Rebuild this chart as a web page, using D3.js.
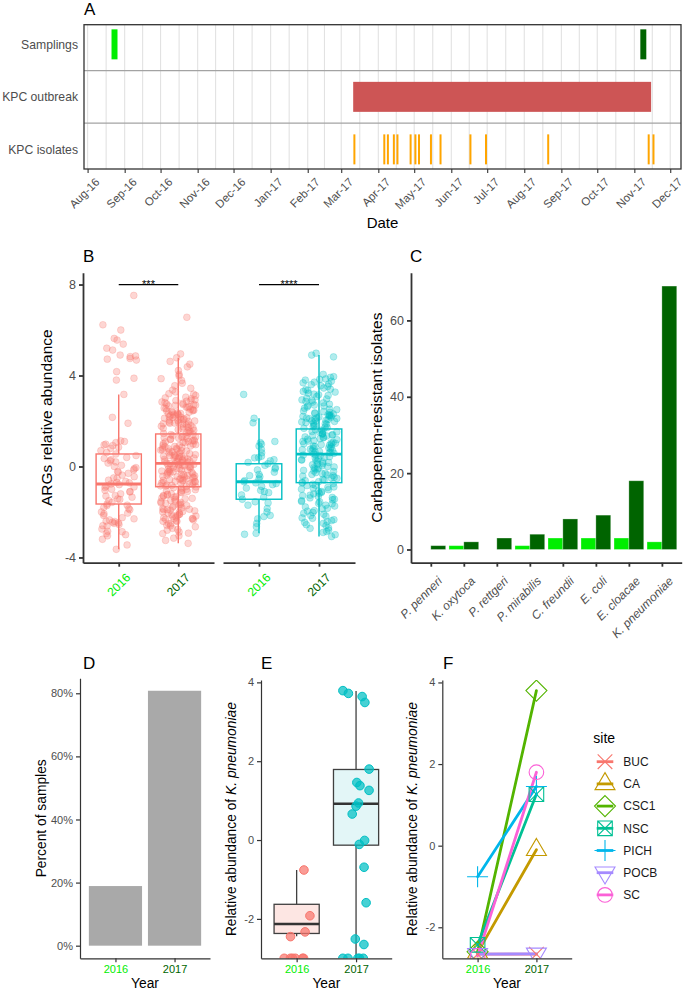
<!DOCTYPE html>
<html>
<head>
<meta charset="utf-8">
<script src="https://cdn.jsdelivr.net/npm/d3@7"></script>
<style>
  body { margin: 0; background: #fff; }
  svg { display: block; font-family: "Liberation Sans", Arial, Helvetica, sans-serif; }
</style>
</head>
<body>
<svg id="fig" width="686" height="991"></svg>
<script>
// Figure: KPC outbreak timeline (A), ARG abundance (B), carbapenem-resistant isolates (C),
// K. pneumoniae detection (D), abundance (E) and per-site change (F).

// ---------- data ----------
const YEARS = ["2016", "2017"];

// A: timeline
const TIMELINE_ROWS = ["Samplings", "KPC outbreak", "KPC isolates"];
const TIMELINE_DOMAIN = ["2016-07-29", "2017-12-10"];
const SAMPLINGS = [
  { start: "2016-08-21", end: "2016-08-26", year: "2016" },
  { start: "2017-11-06", end: "2017-11-11", year: "2017" },
];
const OUTBREAK = { start: "2017-03-11", end: "2017-11-15" };
const ISOLATE_DATES = [
  "2017-03-12", "2017-04-06", "2017-04-09", "2017-04-14", "2017-04-17", "2017-04-28",
  "2017-05-02", "2017-05-05", "2017-05-15", "2017-05-23", "2017-06-17", "2017-06-30",
  "2017-08-21", "2017-11-13", "2017-11-17",
];

// B: ARGs relative abundance, two facets (red / teal)
const ARG_RED_2016 = [7.52, 6.23, 6.0, 5.63, 5.56, 5.38, 5.2, 5.12, 4.9, 4.86, 4.83, 4.72, 4.68, 4.75, 4.17, 3.88, 3.8, 3.17,
  2.16, 1.9, 1.13, 1.1, 1.05, 0.98, 0.92, 0.85, 0.7, 0.62, 0.55, 0.48, 0.4, 0.3, 0.2, 0.15, 0.05, -0.05, -0.15, -0.22,
  -0.3, -0.38, -0.45, -0.52, -0.6, -0.66, -0.72, -0.77, -0.8, -0.86, -0.92, -1.0, -1.05, -1.12, -1.2, -1.28, -1.35,
  -1.42, -1.5, -1.58, -1.65, -1.72, -1.8, -1.9, -2.0, -2.08, -2.15, -2.25, -2.35, -2.42, -2.45, -2.5, -2.55, -2.62,
  -2.75, -2.85, -2.87, -2.95, -3.0, -3.05, -3.2, -3.45, -3.64,
  0.95, 0.8, 0.35, 0.0, -0.25, -0.5, -0.7, -0.9, -1.1, -1.3, -1.45, -1.7, -1.85, -2.05, -2.3, -2.4, -2.6, -2.48,
  0.25, -0.1];
const ARG_RED_2017 = [6.56, 4.95, 4.78, 4.62, 4.5, 4.38, 4.22, 4.05, 3.98, 3.86, 3.78, 3.66, 3.55, 3.44, 3.36, 3.28, 3.2,
  3.12, 3.05, 2.98, 2.9, 2.84, 2.78, 2.72, 2.66, 2.6, 2.55, 2.5, 2.44, 2.38, 2.33, 2.28, 2.22, 2.17, 2.12, 2.06, 2.0,
  1.95, 1.9, 1.85, 1.8, 1.74, 1.68, 1.62, 1.56, 1.5, 1.45, 2.9, 2.7, 2.45, 2.3, 2.15, 2.02, 1.88, 1.7,
  1.4, 1.36, 1.32, 1.28, 1.24, 1.2, 1.16, 1.12, 1.08, 1.04, 1.0, 0.96, 0.92, 0.88, 0.84, 0.8, 0.76, 0.72, 0.68,
  0.64, 0.6, 0.56, 0.52, 0.48, 0.45, 0.42, 0.39, 0.36, 0.33, 0.3, 0.27, 0.24, 0.21, 0.18, 0.15,
  0.12, 0.09, 0.06, 0.03, 0.0, -0.03, -0.06, -0.1, -0.13, -0.16, -0.2, -0.23, -0.26, -0.3, -0.33, -0.36, -0.4,
  -0.43, -0.46, -0.5, -0.53, -0.56, -0.6, -0.63, -0.66, -0.7, -0.73, -0.76, -0.8, -0.83, -0.86,
  -0.9, -0.95, -1.0, -1.05, -1.1, -1.15, -1.2, -1.25, -1.3, -1.35, -1.4, -1.45, -1.5, -1.55, -1.6, -1.65, -1.7,
  -1.75, -1.8, -1.85, -1.9, -1.95, -2.0, -2.05, -2.1, -2.15, -2.2, -2.25, -2.3, -2.35, -2.42, -2.5, -2.58, -2.65,
  -2.72, -2.8, -2.88, -2.95, -3.05, -3.15, -3.25, -3.38, -1.9, -2.1, -2.3,
  3.18, 3.02, 2.93, 2.87, 2.81, 2.75, 2.69, 2.63, 2.57, 2.52, 2.47, 2.41, 2.36, 2.31, 2.25, 2.19, 2.14, 2.09, 2.04,
  1.98, 1.93, 1.87, 1.82, 1.77, 1.71, 1.65, 1.59, 1.53, 1.48, 2.61, 2.39, 2.07, 1.91, 2.73, 2.27,
  1.41, 1.33, 1.26, 1.19, 1.13, 1.06, 0.99, 0.93, 0.87, 0.81, 0.74, 0.67, 0.61, 0.55, 0.49, 0.43, 0.37, 0.31, 0.25,
  0.19, 1.3, 1.1, 0.9, 0.7, 0.5, 0.35, 0.22, 1.22, 0.78, 0.44,
  0.11, 0.04, -0.02, -0.08, -0.15, -0.21, -0.28, -0.35, -0.41, -0.48, -0.55, -0.61, -0.68, -0.75, -0.82, -0.88,
  -0.12, -0.38, -0.58, -0.71, 0.07, -0.25, -0.45, -0.65, -0.85,
  -0.93, -1.02, -1.12, -1.22, -1.32, -1.42, -1.52, -1.62, -1.72, -1.82, -1.92, -2.02, -2.12, -2.22, -2.32, -2.41,
  -2.52, -2.61, -2.77, -2.93, -1.08, -1.38, -1.68, -1.98, -2.18, -2.38, -1.28, -1.58, -1.88, -2.28];
const ARG_TEAL_2016 = [3.17, 2.12, 1.92, 1.1, 1.05, 0.98, 0.75, 0.6, 0.45, 0.38, 0.3, 0.25, 0.18, 0.12, 0.05, -0.05,
  -0.15, -0.25, -0.35, -0.45, -0.55, -0.62, -0.67, -0.72, -0.8, -0.88, -0.95, -1.05, -1.15, -1.25, -1.35, -1.44,
  -1.55, -1.7, -1.85, -2.0, -2.15, -2.3, -2.5, -2.65, -2.94, -2.98,
  0.9, 0.4, -0.1, -0.4, -0.75, -1.1, -1.6, -2.2];
const ARG_TEAL_2017 = [4.98, 4.9, 4.82, 4.05, 3.95, 3.85, 3.8, 3.75, 3.68, 3.6, 3.52, 3.45, 3.38, 3.3, 3.22, 3.15,
  3.08, 3.0, 2.93, 2.86, 2.8, 2.74, 2.68, 2.62, 2.56, 2.5, 2.44, 2.38, 2.33, 2.28, 2.23, 2.18, 2.13, 2.08, 2.03,
  1.98, 1.93, 1.88, 1.83, 1.78, 1.73, 1.68, 2.2, 2.1, 2.0, 2.9, 2.7,
  1.62, 1.58, 1.54, 1.5, 1.46, 1.42, 1.38, 1.34, 1.3, 1.26, 1.22, 1.18, 1.14, 1.1, 1.06, 1.02, 0.98, 0.94, 0.9,
  0.86, 0.82, 0.78, 0.74, 0.7, 0.66, 0.62, 0.58,
  0.52, 0.48, 0.43, 0.38, 0.33, 0.28, 0.23, 0.18, 0.13, 0.08, 0.03, -0.02, -0.07, -0.12, -0.17, -0.22, -0.27,
  -0.32, -0.37, -0.42, -0.47, -0.52, -0.57, -0.62, -0.67,
  -0.72, -0.78, -0.84, -0.9, -0.96, -1.02, -1.08, -1.14, -1.2, -1.26, -1.32, -1.38, -1.44, -1.5, -1.56, -1.62,
  -1.7, -1.78, -1.86, -1.94, -2.02, -2.1, -2.18, -2.26, -2.34, -2.42, -2.5, -2.6, -2.7, -2.8, -2.9, -3.0, -3.08,
  3.92, 3.83, 3.71, 3.63, 3.55, 3.4, 3.27, 3.12, 2.97, 2.83, 2.66, 2.52, 2.41, 2.31, 2.26, 2.21, 2.16, 2.11, 2.06,
  2.01, 1.96, 1.91, 1.86, 1.76, 1.71, 2.24, 2.14, 2.36, 3.35, 3.18,
  1.6, 1.52, 1.44, 1.36, 1.28, 1.2, 1.12, 1.04, 0.96, 0.88, 0.8, 0.72, 0.64, 0.56, 1.4, 1.0, 0.76, 0.6,
  0.5, 0.4, 0.3, 0.2, 0.1, 0.0, -0.1, -0.2, -0.3, -0.4, -0.5, -0.6, -0.7, 0.25, -0.05, -0.35,
  -0.75, -0.82, -0.92, -1.0, -1.1, -1.18, -1.28, -1.36, -1.46, -1.54, -1.64, -1.74, -1.84, -1.96, -2.06, -2.16,
  -2.28, -2.38, -2.46, -2.56, -2.72, -2.86];
// box statistics: [lower whisker, q1, median, q3, upper whisker]
const ARG_BOX_RED = [[-3.64, -1.65, -0.77, 0.55, 3.16], [-3.38, -0.89, 0.14, 1.43, 4.78]];
const ARG_BOX_TEAL = [[-2.94, -1.44, -0.67, 0.12, 2.12], [-3.08, -0.71, 0.54, 1.65, 4.9]];
const ARG_SIGNIF = ["***", "****"];

// C: carbapenem-resistant isolates per species
const SPECIES = ["P. penneri", "K. oxytoca", "P. rettgeri", "P. mirabilis", "C. freundii", "E. coli", "E. cloacae", "K. pneumoniae"];
const ISOLATES_2016 = [0, 1, 0, 1, 3, 3, 3, 2];
const ISOLATES_2017 = [1, 2, 3, 4, 8, 9, 18, 69];

// D: percent of samples with K. pneumoniae
const PERCENT_SAMPLES = [18.9, 80.8];

// E: relative abundance of K. pneumoniae
const KP_2016 = [-0.76, -1.92, -2.33, -2.45, -3, -3, -3, -3, -3, -3];
const KP_2017 = [3.79, 3.72, 3.64, 3.49, 1.8, 1.46, 1.38, 1.26, 0.94, 0.86, 0.66, -0.01, -0.11, -0.69, -1.59,
  -2.51, -2.65, -3, -3, -3, -3, -3];
const KP_BOX = [[-2.44, -2.37, -2.13, -1.63, -0.76], [-3.0, -0.13, 0.92, 1.79, 3.78]];

// F: per-site change
const SITES = ["BUC", "CA", "CSC1", "NSC", "PICH", "POCB", "SC"];
const SITE_2016 = [-2.66, -2.62, -2.6, -2.43, -0.76, -2.66, -2.7];
const SITE_2017 = [-2.66, -0.1, 3.8, 1.26, 1.45, -2.65, 1.8];

// ---------- styles ----------
const FONT = '"Liberation Sans", Arial, Helvetica, sans-serif';
const YEAR_COLORS = { "2016": "#00EE00", "2017": "#006400" };
const RED = "#F8766D", TEAL = "#00BFC4";
const SITE_COLORS = ["#F8766D", "#C49A00", "#53B400", "#00C094", "#00B6EB", "#A58AFF", "#FB61D7"];
const SITE_SHAPES = ["x", "triangle", "diamond", "boxx", "plus", "triangleDown", "circle"];
const TICK_GREY = "#4d4d4d";

const svg = d3.select("#fig");
svg.append("rect").attr("width", 686).attr("height", 991).attr("fill", "#fff");
const defs = svg.append("defs");

const parseDay = d3.timeParse("%Y-%m-%d");

// deterministic jitter in [-0.5, 0.5]
function jitter(i, seed) {
  const s = Math.sin((i + 1) * 12.9898 + seed * 78.233) * 43758.5453;
  return s - Math.floor(s) - 0.5;
}

function styleAxis(g, size, width) {
  g.attr("font-family", FONT).attr("font-size", size);
  g.selectAll("text").attr("fill", TICK_GREY);
  g.selectAll("line").attr("stroke", "#333").attr("stroke-width", width);
  g.select(".domain").attr("stroke", "#333").attr("stroke-width", width);
  return g;
}

function panelLabel(txt, x, y) {
  svg.append("text").attr("x", x).attr("y", y).attr("font-size", 17).attr("fill", "#000").text(txt);
}

function yTitle(parts, cx, cy, size) {
  const t = svg.append("text")
    .attr("transform", `translate(${cx},${cy}) rotate(-90)`)
    .attr("text-anchor", "middle").attr("dy", "0.35em")
    .attr("font-size", size).attr("fill", "#000");
  parts.forEach(([s, italic]) => t.append("tspan").attr("font-style", italic ? "italic" : null).text(s));
}

function xTitle(txt, cx, y, size) {
  svg.append("text").attr("x", cx).attr("y", y).attr("text-anchor", "middle")
    .attr("font-size", size).attr("fill", "#000").text(txt);
}

function clipRect(id, x0, y0, x1, y1) {
  defs.append("clipPath").attr("id", id).append("rect")
    .attr("x", x0).attr("y", y0).attr("width", x1 - x0).attr("height", y1 - y0);
  return `url(#${id})`;
}

// ================= Panel A =================
(function panelA() {
  const box = { x0: 84, x1: 681, y0: 24.7, y1: 169 };
  const x = d3.scaleTime().domain(TIMELINE_DOMAIN.map(parseDay)).range([box.x0, box.x1]);
  const y = d3.scalePoint().domain(TIMELINE_ROWS).range([box.y0, box.y1]).padding(0.374);
  const g = svg.append("g");
  const months = d3.timeMonth.range(parseDay("2016-08-01"), parseDay("2017-12-02"));
  const mids = d3.pairs(months).map(([a, b]) => (x(a) + x(b)) / 2);

  g.selectAll(null).data(months.map(x).concat(mids)).join("line")
    .attr("x1", (d) => d).attr("x2", (d) => d).attr("y1", box.y0).attr("y2", box.y1)
    .attr("stroke", "#e2e2e2").attr("stroke-width", 1.1);
  g.selectAll(null).data(d3.pairs(TIMELINE_ROWS)).join("line")
    .attr("x1", box.x0).attr("x2", box.x1)
    .attr("y1", ([a, b]) => (y(a) + y(b)) / 2).attr("y2", ([a, b]) => (y(a) + y(b)) / 2)
    .attr("stroke", "#a3a3a3").attr("stroke-width", 1.3);

  const h = 30;
  g.selectAll(null).data(SAMPLINGS).join("rect")
    .attr("x", (d) => x(parseDay(d.start))).attr("width", (d) => x(parseDay(d.end)) - x(parseDay(d.start)))
    .attr("y", y("Samplings") - h / 2).attr("height", h)
    .attr("fill", (d) => YEAR_COLORS[d.year]);
  g.append("rect")
    .attr("x", x(parseDay(OUTBREAK.start))).attr("width", x(parseDay(OUTBREAK.end)) - x(parseDay(OUTBREAK.start)))
    .attr("y", y("KPC outbreak") - h / 2).attr("height", h).attr("fill", "#CD5555");
  g.selectAll(null).data(ISOLATE_DATES.map(parseDay)).join("line")
    .attr("x1", (d) => x(d)).attr("x2", (d) => x(d))
    .attr("y1", y("KPC isolates") - h / 2).attr("y2", y("KPC isolates") + h / 2)
    .attr("stroke", "#FFA500").attr("stroke-width", 2);

  g.append("rect").attr("x", box.x0).attr("y", box.y0)
    .attr("width", box.x1 - box.x0).attr("height", box.y1 - box.y0)
    .attr("fill", "none").attr("stroke", "#333").attr("stroke-width", 1.3);

  const ax = g.append("g").attr("transform", `translate(0,${box.y1})`)
    .call(d3.axisBottom(x).tickValues(months).tickSize(4).tickFormat(""));
  ax.select(".domain").remove();
  styleAxis(ax, 11.5, 1.1);

  const fmt = d3.timeFormat("%b-%y");
  g.selectAll(null).data(months).join("text")
    .attr("transform", (d) => `translate(${x(d) + 7},${box.y1 + 8}) rotate(-45)`)
    .attr("text-anchor", "end").attr("dy", "0.71em")
    .attr("font-size", 11.5).attr("fill", TICK_GREY).text(fmt);

  g.selectAll(null).data(TIMELINE_ROWS).join("text")
    .attr("x", box.x0 - 6).attr("y", (d) => y(d)).attr("dy", "0.35em")
    .attr("text-anchor", "end").attr("font-size", 12.2).attr("fill", TICK_GREY).text((d) => d);

  xTitle("Date", (box.x0 + box.x1) / 2, 228, 15);
  panelLabel("A", 84, 15);
})();

// ================= Panel B =================
(function panelB() {
  const top = 272.7, bottom = 562.7;
  const y = d3.scaleLinear().domain([-4.23, 8.52]).range([bottom, top]);
  const facets = [
    { range: [83, 214], color: RED, groups: [ARG_RED_2016, ARG_RED_2017], box: ARG_BOX_RED, sig: ARG_SIGNIF[0] },
    { range: [223, 355], color: TEAL, groups: [ARG_TEAL_2016, ARG_TEAL_2017], box: ARG_BOX_TEAL, sig: ARG_SIGNIF[1] },
  ];

  facets.forEach((f, fi) => {
    const x = d3.scalePoint().domain(YEARS).range(f.range).padding(0.6);
    const step = x.step();
    const g = svg.append("g");

    YEARS.forEach((yr, yi) => {
      g.selectAll(null).data(f.groups[yi]).join("circle")
        .attr("cx", (d, i) => x(yr) + jitter(i, fi * 2 + yi) * 0.6 * step)
        .attr("cy", (d) => y(d)).attr("r", 3.4)
        .attr("fill", f.color).attr("fill-opacity", 0.3)
        .attr("stroke", f.color).attr("stroke-opacity", 0.3).attr("stroke-width", 0.8);
    });

    YEARS.forEach((yr, yi) => {
      const [lo, q1, med, q3, hi] = f.box[yi];
      const bw = 0.76 * step, cx = x(yr);
      g.append("line").attr("x1", cx).attr("x2", cx).attr("y1", y(q3)).attr("y2", y(hi))
        .attr("stroke", f.color).attr("stroke-width", 1.4);
      g.append("line").attr("x1", cx).attr("x2", cx).attr("y1", y(q1)).attr("y2", y(lo))
        .attr("stroke", f.color).attr("stroke-width", 1.4);
      g.append("rect").attr("x", cx - bw / 2).attr("width", bw)
        .attr("y", y(q3)).attr("height", y(q1) - y(q3))
        .attr("fill", "none").attr("stroke", f.color).attr("stroke-width", 1.4);
      g.append("line").attr("x1", cx - bw / 2).attr("x2", cx + bw / 2).attr("y1", y(med)).attr("y2", y(med))
        .attr("stroke", f.color).attr("stroke-width", 2.8);
    });

    // significance bracket
    g.append("line").attr("x1", x("2016")).attr("x2", x("2017")).attr("y1", y(8)).attr("y2", y(8))
      .attr("stroke", "#000").attr("stroke-width", 1.2);
    g.append("text").attr("x", (x("2016") + x("2017")) / 2).attr("y", y(8) + 3)
      .attr("text-anchor", "middle").attr("font-size", 11).attr("fill", "#000").text(f.sig);

    const ax = g.append("g").attr("transform", `translate(0,${bottom})`)
      .call(d3.axisBottom(x).tickSize(4).tickSizeOuter(0).tickFormat(""));
    styleAxis(ax, 12, 1.8);
    g.selectAll(null).data(YEARS).join("text")
      .attr("transform", (d) => `translate(${x(d)},${bottom + 22}) rotate(-45)`)
      .attr("text-anchor", "middle").attr("dy", "0.35em")
      .attr("font-size", 12).attr("fill", (d) => YEAR_COLORS[d]).text((d) => d);
  });

  const ay = svg.append("g").attr("transform", "translate(83,0)")
    .call(d3.axisLeft(y).tickValues([-4, 0, 4, 8]).tickSize(4).tickSizeOuter(0).tickFormat((d) => String(d)));
  styleAxis(ay, 12.5, 1.8);

  yTitle([["ARGs relative abundance", false]], 47, (top + bottom) / 2, 15.5);
  panelLabel("B", 83, 262);
})();

// ================= Panel C =================
(function panelC() {
  const left = 411, right = 681.7, top = 272.7, bottom = 562.7;
  const y = d3.scaleLinear().domain([-3.46, 72.5]).range([bottom, top]);
  const x = d3.scalePoint().domain(SPECIES).range([left, right]).padding(0.6);
  const bw = 0.45 * x.step();
  const g = svg.append("g");
  const bars = SPECIES.flatMap((s, i) => [
    { s, year: "2016", v: ISOLATES_2016[i], off: -bw },
    { s, year: "2017", v: ISOLATES_2017[i], off: 0 },
  ]).filter((d) => d.v > 0);

  g.selectAll(null).data(bars).join("rect")
    .attr("x", (d) => x(d.s) + d.off).attr("width", bw)
    .attr("y", (d) => y(d.v)).attr("height", (d) => y(0) - y(d.v))
    .attr("fill", (d) => YEAR_COLORS[d.year])
    .attr("stroke", "#ffffff").attr("stroke-opacity", 0.35).attr("stroke-width", 0.8);

  const ay = g.append("g").attr("transform", `translate(${left},0)`)
    .call(d3.axisLeft(y).tickValues([0, 20, 40, 60]).tickSize(4).tickSizeOuter(0));
  styleAxis(ay, 12.5, 1.8);
  const ax = g.append("g").attr("transform", `translate(0,${bottom})`)
    .call(d3.axisBottom(x).tickSize(4).tickSizeOuter(0).tickFormat(""));
  styleAxis(ax, 12.5, 1.8);

  g.selectAll(null).data(SPECIES).join("text")
    .attr("transform", (d) => `translate(${x(d) + 6},${bottom + 13}) rotate(-45)`)
    .attr("text-anchor", "end").attr("dy", "0.71em")
    .attr("font-size", 12).attr("font-style", "italic").attr("fill", TICK_GREY).text((d) => d);

  yTitle([["Carbapenem-resistant isolates", false]], 377, (top + bottom) / 2, 15.5);
  panelLabel("C", 410, 262);
})();

// ================= Panel D =================
(function panelD() {
  const left = 80, right = 210, top = 678.3, bottom = 958.3;
  const y = d3.scaleLinear().domain([-4, 84.75]).range([bottom, top]);
  const x = d3.scalePoint().domain(YEARS).range([left, right]).padding(0.6);
  const bw = 0.9 * x.step();
  const g = svg.append("g");

  g.selectAll(null).data(YEARS).join("rect")
    .attr("x", (d) => x(d) - bw / 2).attr("width", bw)
    .attr("y", (d, i) => y(PERCENT_SAMPLES[i])).attr("height", (d, i) => y(0) - y(PERCENT_SAMPLES[i]))
    .attr("fill", "#A9A9A9");

  const ay = g.append("g").attr("transform", `translate(${left},0)`)
    .call(d3.axisLeft(y).tickValues([0, 20, 40, 60, 80]).tickSize(4).tickSizeOuter(0).tickFormat((d) => d + "%"));
  styleAxis(ay, 11, 1.2);
  const ax = g.append("g").attr("transform", `translate(0,${bottom})`)
    .call(d3.axisBottom(x).tickSize(4).tickSizeOuter(0));
  styleAxis(ax, 11, 1.2);
  ax.selectAll("text").attr("fill", (d) => YEAR_COLORS[d]);

  yTitle([["Percent of samples", false]], 41, (top + bottom) / 2, 13.8);
  xTitle("Year", (left + right) / 2, 988, 13.8);
  panelLabel("D", 83, 669);
})();

// ================= Panel E =================
(function panelE() {
  const left = 261, right = 391.7, top = 680, bottom = 958.3;
  const y = d3.scaleLinear().domain([-3.0, 4.06]).range([bottom, top]);
  const x = d3.scalePoint().domain(YEARS).range([left, right]).padding(0.6);
  const step = x.step(), bw = 0.76 * step;
  const g = svg.append("g").attr("clip-path", clipRect("clipE", left, top, right, bottom));
  const cols = [RED, TEAL];
  const fills = ["#FDE6E3", "#E3F6F7"];

  YEARS.forEach((yr, yi) => {
    const [lo, q1, med, q3, hi] = KP_BOX[yi];
    const cx = x(yr);
    g.append("line").attr("x1", cx).attr("x2", cx).attr("y1", y(hi)).attr("y2", y(lo))
      .attr("stroke", "#404040").attr("stroke-width", 1.3);
    g.append("rect").attr("x", cx - bw / 2).attr("width", bw)
      .attr("y", y(q3)).attr("height", y(q1) - y(q3))
      .attr("fill", fills[yi]).attr("stroke", "#404040").attr("stroke-width", 1.3);
    g.append("line").attr("x1", cx - bw / 2).attr("x2", cx + bw / 2).attr("y1", y(med)).attr("y2", y(med))
      .attr("stroke", "#333").attr("stroke-width", 2.4);
  });

  [KP_2016, KP_2017].forEach((vals, yi) => {
    g.selectAll(null).data(vals).join("circle")
      .attr("cx", (d, i) => x(YEARS[yi]) + jitter(i, 10 + yi) * 0.45 * step)
      .attr("cy", (d) => y(d)).attr("r", 4.3)
      .attr("fill", cols[yi]).attr("fill-opacity", 0.72)
      .attr("stroke", cols[yi]).attr("stroke-width", 1);
  });

  const ay = svg.append("g").attr("transform", `translate(${left},0)`)
    .call(d3.axisLeft(y).tickValues([-2, 0, 2, 4]).tickSize(4).tickSizeOuter(0).tickFormat((d) => String(d)));
  styleAxis(ay, 11, 1.2);
  const ax = svg.append("g").attr("transform", `translate(0,${bottom})`)
    .call(d3.axisBottom(x).tickSize(4).tickSizeOuter(0));
  styleAxis(ax, 11, 1.2);
  ax.selectAll("text").attr("fill", (d) => YEAR_COLORS[d]);

  yTitle([["Relative abundance of ", false], ["K. pneumoniae", true]], 231, (top + bottom) / 2, 13.8);
  xTitle("Year", (left + right) / 2, 988, 13.8);
  panelLabel("E", 261, 669);
})();

// ================= Panel F =================
function shapePath(type) {
  switch (type) {
    case "circle": return "M-7.3,0a7.3,7.3 0 1,0 14.6,0a7.3,7.3 0 1,0 -14.6,0";
    case "x": return "M-7.3,-7.3L7.3,7.3M-7.3,7.3L7.3,-7.3";
    case "plus": return "M-10.5,0L10.5,0M0,-10.5L0,10.5";
    case "diamond": return "M0,-10.5L10.5,0L0,10.5L-10.5,0Z";
    case "boxx": return "M-7.3,-7.3H7.3V7.3H-7.3ZM-7.3,-7.3L7.3,7.3M-7.3,7.3L7.3,-7.3";
    case "triangle": return "M0,-11.3L10,5.7L-10,5.7Z";
    case "triangleDown": return "M0,11.3L10,-5.7L-10,-5.7Z";
  }
}

(function panelF() {
  const left = 442.3, right = 571.7, top = 680, bottom = 958.3;
  const y = d3.scaleLinear().domain([-2.76, 4.06]).range([bottom, top]);
  const x = d3.scalePoint().domain(YEARS).range([left, right]).padding(0.6);
  const g = svg.append("g").attr("clip-path", clipRect("clipF", left, top, right, bottom));
  const rows = SITES.map((s, i) => ({ s, i, v: [SITE_2016[i], SITE_2017[i]] }));

  g.selectAll(null).data(rows).join("line")
    .attr("x1", x("2016")).attr("x2", x("2017"))
    .attr("y1", (d) => y(d.v[0])).attr("y2", (d) => y(d.v[1]))
    .attr("stroke", (d) => SITE_COLORS[d.i]).attr("stroke-width", 2.8).attr("stroke-linecap", "round");
  rows.forEach((d) => {
    YEARS.forEach((yr, yi) => {
      g.append("path").attr("d", shapePath(SITE_SHAPES[d.i]))
        .attr("transform", `translate(${x(yr)},${y(d.v[yi])})`)
        .attr("fill", "none").attr("stroke", SITE_COLORS[d.i]).attr("stroke-width", 1.1);
    });
  });

  const ay = svg.append("g").attr("transform", `translate(${left},0)`)
    .call(d3.axisLeft(y).tickValues([-2, 0, 2, 4]).tickSize(4).tickSizeOuter(0).tickFormat((d) => String(d)));
  styleAxis(ay, 11, 1.2);
  const ax = svg.append("g").attr("transform", `translate(0,${bottom})`)
    .call(d3.axisBottom(x).tickSize(4).tickSizeOuter(0));
  styleAxis(ax, 11, 1.2);
  ax.selectAll("text").attr("fill", (d) => YEAR_COLORS[d]);

  yTitle([["Relative abundance of ", false], ["K. pneumoniae", true]], 412, (top + bottom) / 2, 13.8);
  xTitle("Year", (left + right) / 2, 988, 13.8);
  panelLabel("F", 443, 669);

  // legend
  const lg = svg.append("g").attr("transform", "translate(593.3,0)");
  lg.append("text").attr("x", 0).attr("y", 743).attr("font-size", 14).attr("fill", "#000").text("site");
  SITES.forEach((s, i) => {
    const cy = 761.7 + i * 22.2;
    lg.append("line").attr("x1", 3.4).attr("x2", 20).attr("y1", cy).attr("y2", cy)
      .attr("stroke", SITE_COLORS[i]).attr("stroke-width", 2.8);
    lg.append("path").attr("d", shapePath(SITE_SHAPES[i])).attr("transform", `translate(11.7,${cy})`)
      .attr("fill", "none").attr("stroke", SITE_COLORS[i]).attr("stroke-width", 1.1);
    lg.append("text").attr("x", 30).attr("y", cy).attr("dy", "0.35em")
      .attr("font-size", 12).attr("fill", "#1a1a1a").text(s);
  });
})();
</script>
</body>
</html>
